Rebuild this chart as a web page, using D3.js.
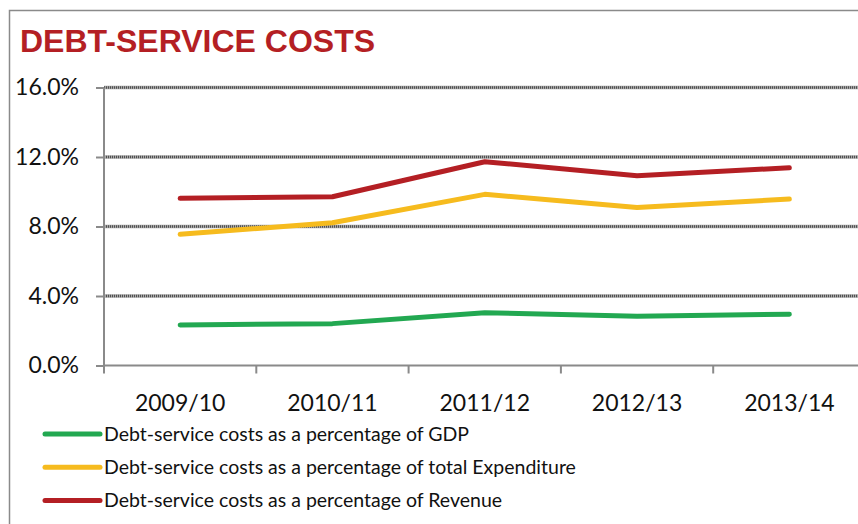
<!DOCTYPE html>
<html>
<head>
<meta charset="utf-8">
<script src="https://cdn.jsdelivr.net/npm/d3@7"></script>
<style>
  body { margin: 0; background: #fff; }
  svg { display: block; }
</style>
</head>
<body>
<div id="chart"></div>
<script>
// data
var years = ["2009/10", "2010/11", "2011/12", "2012/13", "2013/14"];
var gdpPct = [2.33, 2.41, 3.04, 2.84, 2.95];
var expenditurePct = [7.55, 8.22, 9.85, 9.10, 9.58];
var revenuePct = [9.62, 9.71, 11.73, 10.92, 11.38];
var yTicks = [0, 4, 8, 12, 16];
var seriesNames = [
    "Debt-service costs as a percentage of GDP",
    "Debt-service costs as a percentage of total Expenditure",
    "Debt-service costs as a percentage of Revenue"
];
var seriesColors = ["#22a851", "#f6bb1e", "#b41f24"];
//

var width = 858, height = 524;
var plotLeft = 104, plotTop = 87.5, plotBottom = 365.5,
    bandW = 152.3;

var svg = d3.select("#chart").append("svg")
    .attr("width", width)
    .attr("height", height);

// frame
svg.append("path")
    .attr("d", "M9.5," + height + "V10.5H" + width)
    .style("fill", "none")
    .style("stroke", "#8a8a8a")
    .style("stroke-width", 1.5);

// title
svg.append("text")
    .attr("x", 20)
    .attr("y", 52)
    .text("DEBT-SERVICE COSTS")
    .style("font-family", "'Liberation Sans', Arial, sans-serif")
    .style("font-weight", "bold")
    .style("font-size", "32px")
    .style("fill", "#b41f24");

var x = d3.scaleBand()
    .domain(years)
    .range([plotLeft, plotLeft + bandW * years.length])
    .padding(0);

var y = d3.scaleLinear()
    .domain([0, 16])
    .range([plotBottom, plotTop]);

// gridlines (hatched look)
var grid = svg.append("g");
yTicks.filter(function(d) { return d > 0; }).forEach(function(t) {
    grid.append("line")
        .attr("x1", plotLeft).attr("x2", width)
        .attr("y1", y(t)).attr("y2", y(t))
        .style("stroke", "#a8a8a8")
        .style("stroke-width", 3.5);
    grid.append("line")
        .attr("x1", plotLeft).attr("x2", width)
        .attr("y1", y(t)).attr("y2", y(t))
        .style("stroke", "#505050")
        .style("stroke-width", 2.5)
        .style("stroke-dasharray", "1,1");
});

var labelFont = "Lato, 'Open Sans', sans-serif";

// y axis
var yAxis = svg.append("g")
    .attr("transform", "translate(" + plotLeft + ",0)")
    .call(d3.axisLeft(y)
        .tickValues(yTicks)
        .tickFormat(function(d) { return d.toFixed(1) + "%"; })
        .tickSize(8)
        .tickSizeOuter(0)
        .tickPadding(17));
yAxis.select(".domain").remove();
yAxis.selectAll("line").style("stroke", "#8a8a8a").style("stroke-width", 2);
yAxis.selectAll("text")
    .style("font-family", labelFont)
    .style("font-size", "23px")
    .style("fill", "#111");
svg.append("line")
    .attr("x1", plotLeft).attr("x2", plotLeft)
    .attr("y1", plotTop).attr("y2", plotBottom + 8)
    .style("stroke", "#8a8a8a")
    .style("stroke-width", 2);

// x axis
var xAxis = svg.append("g")
    .attr("transform", "translate(0," + plotBottom + ")")
    .call(d3.axisBottom(x).tickSize(0).tickSizeOuter(0).tickPadding(29));
xAxis.select(".domain").remove();
xAxis.selectAll("text")
    .style("font-family", labelFont)
    .style("font-size", "23px")
    .style("fill", "#111");
svg.append("line")
    .attr("x1", plotLeft).attr("x2", width)
    .attr("y1", plotBottom).attr("y2", plotBottom)
    .style("stroke", "#8a8a8a")
    .style("stroke-width", 2);
years.forEach(function(yr) {
    svg.append("line")
        .attr("x1", x(yr) + bandW).attr("x2", x(yr) + bandW)
        .attr("y1", plotBottom).attr("y2", plotBottom + 8)
        .style("stroke", "#8a8a8a")
        .style("stroke-width", 2);
});

// lines
var line = d3.line()
    .x(function(d, i) { return x(years[i]) + x.bandwidth() / 2; })
    .y(function(d) { return y(d); });

[gdpPct, expenditurePct, revenuePct].forEach(function(vals, i) {
    svg.append("path")
        .datum(vals)
        .attr("d", line)
        .style("fill", "none")
        .style("stroke", seriesColors[i])
        .style("stroke-width", 5)
        .style("stroke-linecap", "round")
        .style("stroke-linejoin", "round");
});

// legend
var legend = svg.append("g");
seriesNames.forEach(function(name, i) {
    var ly = 434 + i * 33.3;
    legend.append("line")
        .attr("x1", 45).attr("x2", 100)
        .attr("y1", ly).attr("y2", ly)
        .style("stroke", seriesColors[i])
        .style("stroke-width", 5)
        .style("stroke-linecap", "round");
    legend.append("text")
        .attr("x", 104)
        .attr("y", ly + 6.5)
        .text(name)
        .style("font-family", labelFont)
        .style("font-size", "19.5px")
        .style("fill", "#111");
});
</script>
</body>
</html>
